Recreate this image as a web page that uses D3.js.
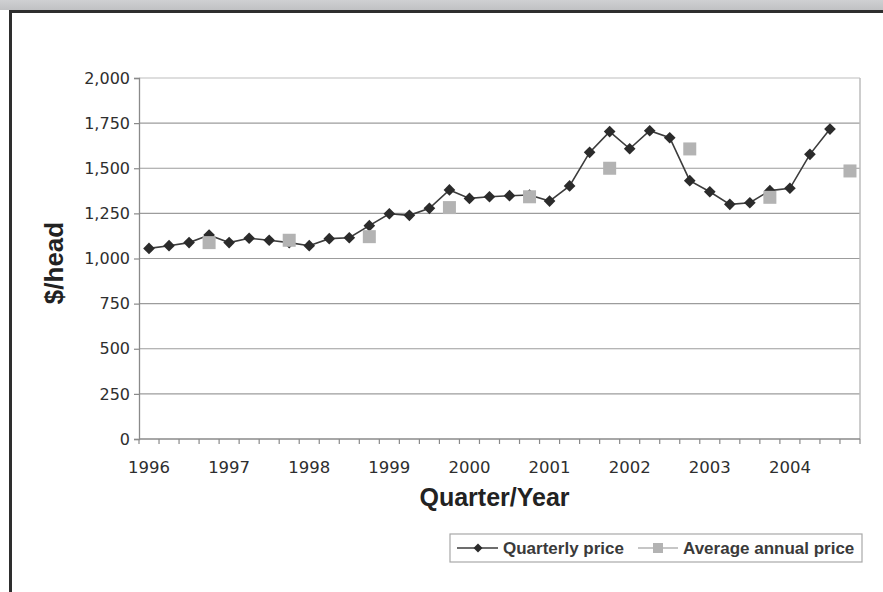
<!DOCTYPE html>
<html>
<head>
<meta charset="utf-8">
<script src="https://cdn.jsdelivr.net/npm/d3@7"></script>
<style>
body{margin:0;background:#fff}
svg{display:block}
</style>
</head>
<body>
<svg></svg>
<script>
// chart data
var years = ["1996","1997","1998","1999","2000","2001","2002","2003","2004"];
var quarters = ["Q1","Q2","Q3","Q4"];
var quarterlyPrice = [1056,1071,1088,1130, 1088,1112,1101,1088, 1071,1110,1115,1182,
    1248,1239,1278,1380, 1333,1342,1348,1352, 1318,1402,1588,1703,
    1608,1708,1669,1431, 1370,1300,1309,1376, 1389,1577,1717];
var annualPrice = [1088,1101,1121,1282,1342,1500,1607,1339,1485];
var yTicks = [0,250,500,750,1000,1250,1500,1750,2000];
var legendLabels = ["Quarterly price","Average annual price"];

var screen = {width:883,height:592};
var margins = {left:139,right:23,top:78,bottom:153};

var svg = d3.select("svg")
    .attr("width",screen.width)
    .attr("height",screen.height);

// page frame
var grad = svg.append("defs").append("linearGradient")
    .attr("id","band").attr("x1",0).attr("y1",0).attr("x2",0).attr("y2",1);
grad.append("stop").attr("offset","0%").attr("stop-color","#cfd0d2");
grad.append("stop").attr("offset","100%").attr("stop-color","#c0c1c3");
svg.append("rect").attr("x",0).attr("y",0).attr("width",screen.width).attr("height",10)
    .attr("fill","url(#band)");
svg.append("rect").attr("x",9).attr("y",10).attr("width",screen.width-9).attr("height",3)
    .attr("fill","#2e2e2e");
svg.append("rect").attr("x",9).attr("y",10).attr("width",3).attr("height",screen.height-10)
    .attr("fill","#2e2e2e");

// categories: each quarter
var cats = [];
years.forEach(function(y){ quarters.forEach(function(q){ cats.push(y+" "+q); }); });

var xScale = d3.scaleBand()
    .domain(cats)
    .range([margins.left, screen.width-margins.right]);

var yScale = d3.scaleLinear()
    .domain([0,2000])
    .range([screen.height-margins.bottom, margins.top]);

var x0 = xScale.range()[0], x1 = xScale.range()[1];
var cx = function(c){return xScale(c)+xScale.bandwidth()/2;};

// gridlines
svg.append("g").selectAll("line")
    .data(yTicks.filter(function(d){return d>0;}))
    .enter().append("line")
    .attr("x1",x0).attr("x2",x1)
    .attr("y1",function(d){return yScale(d);})
    .attr("y2",function(d){return yScale(d);})
    .attr("stroke",function(d){return d==2000?"#bdbdbd":"#9c9c9c";})
    .attr("stroke-width",1.2);

// right border of plot area
svg.append("line")
    .attr("x1",x1).attr("x2",x1)
    .attr("y1",yScale(2000)).attr("y2",yScale(0))
    .attr("stroke","#bdbdbd").attr("stroke-width",1.5);

// y axis
var yAxis = d3.axisLeft(yScale)
    .tickValues(yTicks)
    .tickSize(5)
    .tickPadding(4)
    .tickFormat(d3.format(","));
var yg = svg.append("g")
    .attr("transform","translate("+x0+",0)")
    .call(yAxis);
yg.select(".domain").attr("stroke","#8a8a8a").attr("stroke-width",1.3);
yg.selectAll(".tick line").attr("stroke","#8a8a8a").attr("stroke-width",1.2);
yg.selectAll("text")
    .attr("fill","#2e2e2e")
    .style("font-family","'DejaVu Sans',Verdana,sans-serif")
    .style("font-size","16px");

// x axis: ticks on quarter boundaries, labels on each year
var xg = svg.append("g");
xg.append("line")
    .attr("x1",x0).attr("x2",x1)
    .attr("y1",yScale(0)).attr("y2",yScale(0))
    .attr("stroke","#8a8a8a").attr("stroke-width",1.3);
var bounds = cats.map(function(c){return xScale(c);}).concat([x1]);
xg.selectAll(".xt")
    .data(bounds)
    .enter().append("line")
    .attr("class","xt")
    .attr("x1",function(d){return d;}).attr("x2",function(d){return d;})
    .attr("y1",yScale(0)).attr("y2",yScale(0)+5)
    .attr("stroke","#8a8a8a").attr("stroke-width",1.2);
xg.selectAll(".xl")
    .data(years)
    .enter().append("text")
    .attr("class","xl")
    .attr("x",function(d){return cx(d+" Q1");})
    .attr("y",yScale(0)+34)
    .attr("text-anchor","middle")
    .attr("fill","#2e2e2e")
    .style("font-family","'DejaVu Sans',Verdana,sans-serif")
    .style("font-size","16.5px")
    .text(function(d){return d;});

// axis titles
svg.append("text")
    .attr("x",(x0+x1)/2 - 5)
    .attr("y",yScale(0)+67)
    .attr("text-anchor","middle")
    .attr("fill","#222")
    .style("font-family","'Liberation Sans',Arial,sans-serif")
    .style("font-weight","bold")
    .style("font-size","25px")
    .text("Quarter/Year");

svg.append("text")
    .attr("transform","translate(63,263) rotate(-90)")
    .attr("text-anchor","middle")
    .attr("fill","#222")
    .style("font-family","'Liberation Sans',Arial,sans-serif")
    .style("font-weight","bold")
    .style("font-size","26px")
    .text("$/head");

// quarterly line and diamonds
var qData = quarterlyPrice.map(function(v,i){return {cat:cats[i],v:v};});
var line = d3.line()
    .x(function(d){return cx(d.cat);})
    .y(function(d){return yScale(d.v);});

svg.append("path")
    .datum(qData)
    .attr("d",line)
    .attr("fill","none")
    .attr("stroke","#3c3c3c")
    .attr("stroke-width",1.6);

var diamond = d3.symbol().type(d3.symbolSquare).size(68);

svg.append("g").selectAll("path")
    .data(qData)
    .enter().append("path")
    .attr("d",diamond)
    .attr("transform",function(d){
        return "translate("+cx(d.cat)+","+yScale(d.v)+") rotate(45)";
    })
    .attr("fill","#2b2b2b");

// annual squares
var aData = annualPrice.map(function(v,i){return {cat:years[i]+" Q4",v:v};});
svg.append("g").selectAll("rect")
    .data(aData)
    .enter().append("rect")
    .attr("x",function(d){return cx(d.cat)-6.5;})
    .attr("y",function(d){return yScale(d.v)-6.5;})
    .attr("width",13).attr("height",13)
    .attr("fill","#b3b3b3");

// legend
var lg = svg.append("g");
lg.append("rect")
    .attr("x",450).attr("y",534).attr("width",412).attr("height",28)
    .attr("fill","#fff").attr("stroke","#a8a8a8").attr("stroke-width",1.2);

lg.append("line").attr("x1",457).attr("x2",498).attr("y1",548).attr("y2",548)
    .attr("stroke","#3c3c3c").attr("stroke-width",1.5);
lg.append("path").attr("d",d3.symbol().type(d3.symbolSquare).size(40))
    .attr("transform","translate(478,548) rotate(45)").attr("fill","#2b2b2b");
lg.append("line").attr("x1",638).attr("x2",678).attr("y1",548).attr("y2",548)
    .attr("stroke","#b3b3b3").attr("stroke-width",1.5);
lg.append("rect").attr("x",653).attr("y",543).attr("width",10).attr("height",10)
    .attr("fill","#b3b3b3");

lg.selectAll("text")
    .data(legendLabels)
    .enter().append("text")
    .attr("x",function(d,i){return i==0?503:683;})
    .attr("y",554)
    .attr("fill","#3a3a3a")
    .style("font-family","'Liberation Sans',Arial,sans-serif")
    .style("font-weight","bold")
    .style("font-size","17px")
    .text(function(d){return d;});
</script>
</body>
</html>
